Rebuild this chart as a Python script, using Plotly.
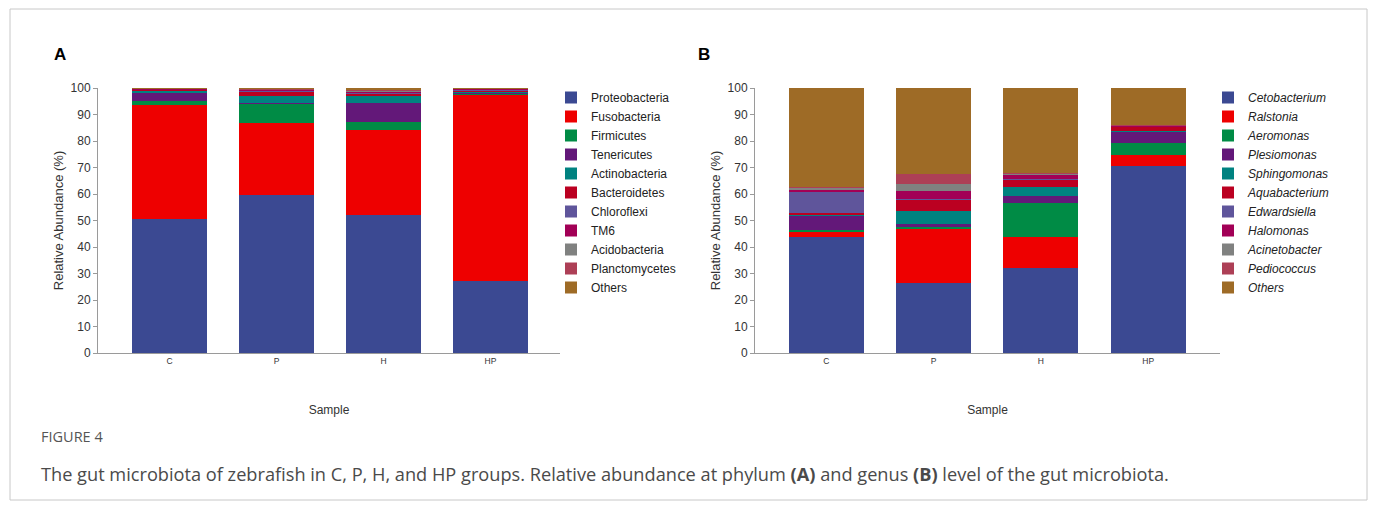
import plotly.graph_objects as go

samples = ["C", "P", "H", "HP"]

phyla = ["Proteobacteria", "Fusobacteria", "Firmicutes", "Tenericutes", "Actinobacteria",
         "Bacteroidetes", "Chloroflexi", "TM6", "Acidobacteria", "Planctomycetes", "Others"]
phylum_values = {
    "Proteobacteria": [50.7, 59.7, 52.2, 27.3],
    "Fusobacteria":   [42.9, 27.0, 31.9, 70.1],
    "Firmicutes":     [1.5, 7.5, 3.2, 0.5],
    "Tenericutes":    [3.3, 0.3, 6.9, 0.3],
    "Actinobacteria": [0.5, 2.3, 2.6, 0.5],
    "Bacteroidetes":  [0.6, 2.0, 1.1, 0.3],
    "Chloroflexi":    [0.1, 0.3, 0.3, 0.6],
    "TM6":            [0.1, 0.2, 0.6, 0.1],
    "Acidobacteria":  [0.1, 0.2, 0.3, 0.1],
    "Planctomycetes": [0.1, 0.2, 0.4, 0.1],
    "Others":         [0.1, 0.3, 0.5, 0.1],
}

genera = ["Cetobacterium", "Ralstonia", "Aeromonas", "Plesiomonas", "Sphingomonas",
          "Aquabacterium", "Edwardsiella", "Halomonas", "Acinetobacter", "Pediococcus", "Others"]
genus_values = {
    "Cetobacterium": [43.6, 26.6, 32.0, 70.4],
    "Ralstonia":     [2.2, 20.4, 11.6, 4.2],
    "Aeromonas":     [0.8, 0.4, 12.9, 4.5],
    "Plesiomonas":   [5.2, 1.2, 2.6, 4.4],
    "Sphingomonas":  [0.3, 5.1, 3.4, 0.3],
    "Aquabacterium": [0.7, 4.3, 3.0, 1.5],
    "Edwardsiella":  [7.8, 0.2, 0.2, 0.2],
    "Halomonas":     [1.0, 2.8, 1.3, 0.3],
    "Acinetobacter": [1.0, 2.6, 0.8, 0.2],
    "Pediococcus":   [0.2, 3.8, 0.2, 0.2],
    "Others":        [37.2, 32.6, 32.0, 13.8],
}

y_ticks = [0, 10, 20, 30, 40, 50, 60, 70, 80, 90, 100]

colors = ["#3b4992", "#ee0000", "#008b45", "#631879", "#008280", "#bb0021",
          "#5f559b", "#a20056", "#808180", "#ad3f56", "#9e6b26"]

fig = go.Figure()
for i, name in enumerate(phyla):
    fig.add_trace(go.Bar(x=samples, y=phylum_values[name], name=name,
                         marker=dict(color=colors[i], line=dict(width=0)),
                         xaxis="x", yaxis="y", legend="legend"))
for i, name in enumerate(genera):
    fig.add_trace(go.Bar(x=samples, y=genus_values[name], name="<i>%s</i>" % name,
                         marker=dict(color=colors[i], line=dict(width=0)),
                         xaxis="x2", yaxis="y2", legend="legend2"))

# page body has an 8px margin; figure fills the rest of the window
OFF = 8
W, H = 1377 - OFF, 508 - OFF
def px(x):
    return (x - OFF) / W
def py(y):
    return 1 - (y - OFF) / H

FONT = "Liberation Sans, Arial"
axis_common = dict(showline=True, linecolor="#9a9a9a", linewidth=1, ticks="outside",
                   ticklen=4, tickcolor="#9a9a9a", showgrid=False, zeroline=False,
                   automargin=False,
                   tickfont=dict(family=FONT, size=12, color="#333"))
xcommon = dict(axis_common, tickfont=dict(family=FONT, size=8.5, color="#333"),
               ticks="", title=dict(text="Sample", standoff=40,
                                    font=dict(family=FONT, size=12, color="#333")))
ycommon = dict(axis_common, range=[0, 100], tickvals=y_ticks,
               title=dict(text="Relative Abundance (%)", standoff=4,
                          font=dict(family=FONT, size=13, color="#333")))

legend_common = dict(xanchor="left", yanchor="top", traceorder="normal",
                     font=dict(family=FONT, size=12, color="#222"),
                     bgcolor="rgba(0,0,0,0)", itemwidth=30, tracegroupgap=0)

fig.update_layout(
    width=W, height=H,
    margin=dict(l=0, r=0, t=0, b=0, autoexpand=False),
    paper_bgcolor="white", plot_bgcolor="white",
    barmode="stack", bargap=0.3,
    showlegend=True,
    xaxis=dict(xcommon, domain=[px(98), px(560)], range=[-0.668, 3.65], anchor="y"),
    yaxis=dict(ycommon, domain=[py(353), py(88)], anchor="x"),
    xaxis2=dict(xcommon, domain=[px(755), px(1220)], range=[-0.666, 3.67], anchor="y2"),
    yaxis2=dict(ycommon, domain=[py(353), py(88)], anchor="x2"),
    legend=dict(legend_common, x=px(551), y=py(83)),
    legend2=dict(legend_common, x=px(1208), y=py(83)),
    shapes=[dict(type="rect", xref="paper", yref="paper", x0=px(10), x1=px(1367),
                 y0=py(500), y1=py(9), line=dict(color="#c8c8c8", width=1))],
    annotations=[
        dict(text="<b>A</b>", x=px(52), y=py(55), xref="paper", yref="paper",
             xanchor="left", yanchor="middle", showarrow=False,
             font=dict(family=FONT, size=17, color="#000")),
        dict(text="<b>B</b>", x=px(696), y=py(55), xref="paper", yref="paper",
             xanchor="left", yanchor="middle", showarrow=False,
             font=dict(family=FONT, size=17, color="#000")),
        dict(text="FIGURE 4", x=px(39), y=py(436), xref="paper", yref="paper",
             xanchor="left", yanchor="middle", showarrow=False,
             font=dict(family="Open Sans", size=14.5, color="#555")),
        dict(text="The gut microbiota of zebrafish in C, P, H, and HP groups. Relative abundance at phylum "
                  "<b>(A)</b> and genus <b>(B)</b> level of the gut microbiota.",
             x=px(39), y=py(474), xref="paper", yref="paper",
             xanchor="left", yanchor="middle", showarrow=False,
             font=dict(family="Open Sans", size=18.2, color="#4a4a4a")),
    ],
)

fig.write_html("out.html")
